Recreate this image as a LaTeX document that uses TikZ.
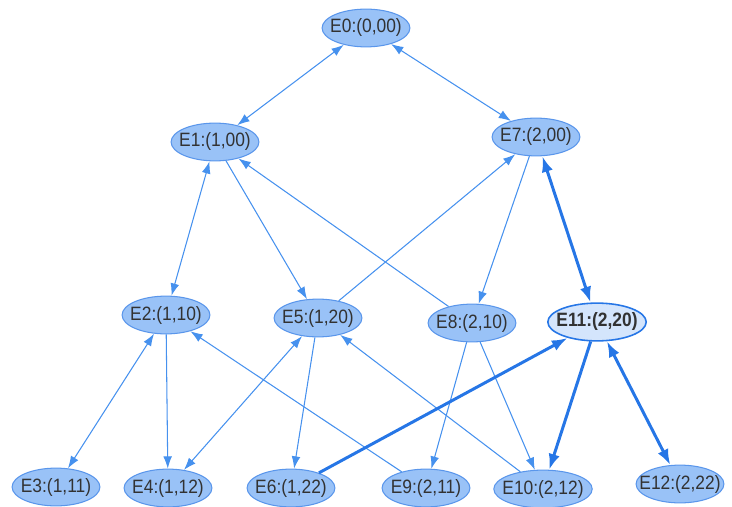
\documentclass[tikz,border=0pt]{standalone}
\usepackage{fontspec}
\setmainfont[FakeStretch=0.9]{Liberation Sans}
\usepackage{tikz}
\usetikzlibrary{shapes.geometric}
\usetikzlibrary{arrows.meta}

\definecolor{nodefill}{RGB}{153,194,247}
\definecolor{nodeline}{RGB}{90,150,235}
\definecolor{thinedge}{RGB}{70,145,238}
\definecolor{thickedge}{RGB}{38,118,230}
\definecolor{markfill}{RGB}{212,229,252}
\definecolor{labeltext}{RGB}{50,50,50}

\begin{document}
\begin{tikzpicture}
    [
    x=0.02cm, y=-0.02cm,
    state/.style={ellipse,draw=nodeline,fill=nodefill,line width=0.6pt,
      inner xsep=-7pt,inner ysep=0pt,minimum width=50pt,minimum height=21.5pt,
      text=labeltext,font=\fontsize{11}{13}\selectfont},
    wide/.style={minimum width=56pt},
    marked/.style={fill=markfill,draw=thickedge,line width=0.9pt,font=\fontsize{11}{13}\selectfont\bfseries},
    thin/.style={thinedge,line width=0.6pt,-{Latex[length=7pt,width=5pt]}},
    thinboth/.style={thin,{Latex[length=7pt,width=5pt]}-{Latex[length=7pt,width=5pt]}},
    thick/.style={thickedge,line width=1.7pt,-{Latex[length=9pt,width=6.5pt]}},
    thickboth/.style={thick,{Latex[length=9pt,width=6.5pt]}-{Latex[length=9pt,width=6.5pt]}}
    ]
    \useasboundingbox (0,0) rectangle (732,506);
    \node (e0) at (366,28) [state] {E0:(0,00)};
    \node (e1) at (215,142) [state] {E1:(1,00)};
    \node (e7) at (536,137) [state] {E7:(2,00)};
    \node (e2) at (166,315) [state] {E2:(1,10)};
    \node (e5) at (318,318) [state] {E5:(1,20)};
    \node (e8) at (472,323) [state] {E8:(2,10)};
    \node (e11) at (597,322) [state, wide, marked] {E11:(2,20)};
    \node (e3) at (56,487) [state] {E3:(1,11)};
    \node (e4) at (168,488) [state] {E4:(1,12)};
    \node (e6) at (291,488) [state] {E6:(1,22)};
    \node (e9) at (426,488) [state] {E9:(2,11)};
    \node (e10) at (543,489) [state, wide] {E10:(2,12)};
    \node (e12) at (680,484) [state] {E12:(2,22)};

    \draw [thinboth] (e1) to (e0);
    \draw [thinboth] (e0) to (e7);
    \draw [thinboth] (e1) to (e2);
    \draw [thin] (e1) to (e5);
    \draw [thin] (e8) to (e1);
    \draw [thin] (e5) to (e7);
    \draw [thin] (e7) to (e8);
    \draw [thinboth] (e2) to (e3);
    \draw [thin] (e2) to (e4);
    \draw [thin] (e9) to (e2);
    \draw [thinboth] (e5) to (e4);
    \draw [thin] (e5) to (e6);
    \draw [thin] (e10) to (e5);
    \draw [thin] (e8) to (e9);
    \draw [thin] (e8) to (e10);

    \draw [thickboth] (e7) to (e11);
    \draw [thick] (e6) to (e11);
    \draw [thick] (e11) to (e10);
    \draw [thickboth] (e11) to (e12);
\end{tikzpicture}
\end{document}
